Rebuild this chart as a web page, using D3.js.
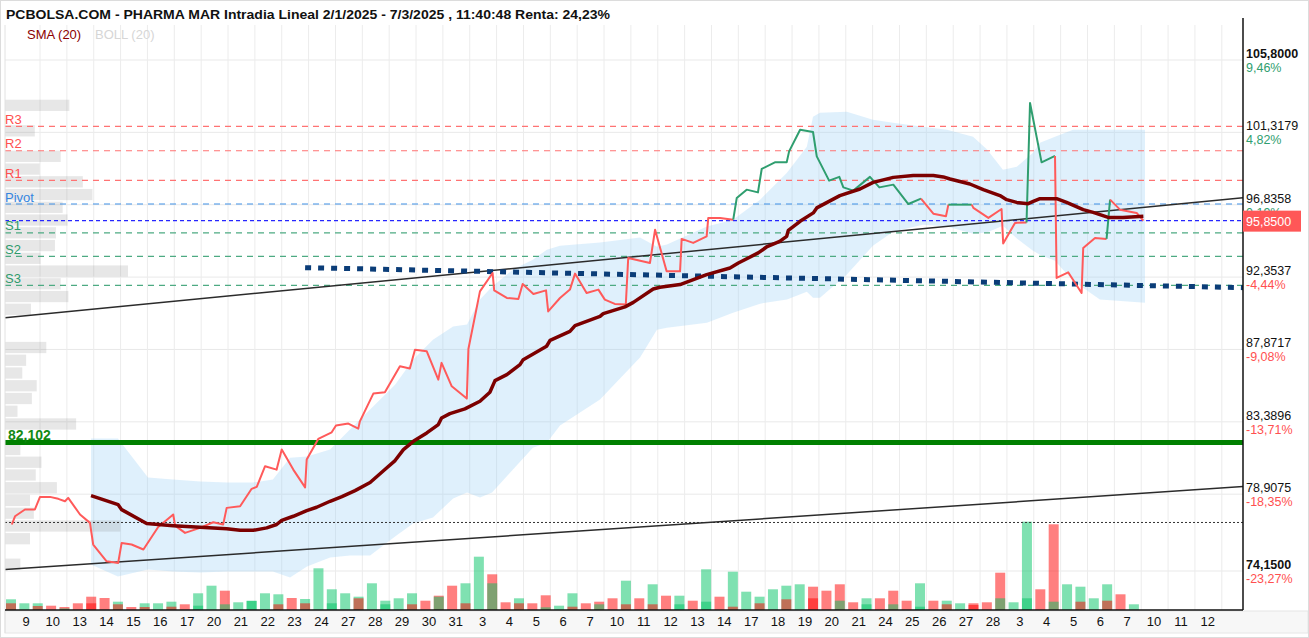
<!DOCTYPE html>
<html>
<head>
<meta charset="utf-8">
<script src="https://cdn.jsdelivr.net/npm/d3@7"></script>
<style>
body { margin: 0; background: #fff; }
svg { display: block; font-family: "Liberation Sans", Arial, sans-serif; }
</style>
</head>
<body>
<div id="chart"></div>
<script>
"use strict";

// ---- data ----
const dayLabels = ["9","10","13","14","15","16","17","20","21","22","23","24","27","28","29","30","31",
  "3","4","5","6","7","10","11","12","13","14","17","18","19","20","21","24","25","26","27","28",
  "3","4","5","6","7","10","11","12"];

const yTicks = [105.8, 101.3179, 96.8358, 92.3537, 87.8717, 83.3896, 78.9075, 74.15];
const yTickLabels = ["105,8000","101,3179","96,8358","92,3537","87,8717","83,3896","78,9075","74,1500"];
const yTickPct = ["9,46%","4,82%","0,19%","-4,44%","-9,08%","-13,71%","-18,35%","-23,27%"];

const pivotNames = ["R3","R2","R1","Pivot","S1","S2","S3"];
const pivotValues = [101.69, 100.18, 98.35, 96.88, 95.09, 93.64, 91.84];

const lastPrice = 95.85;
const startPrice = 77.155;
const supportLevel = 82.102;

// trend lines, [time, price] end points
const trendUpper = [[-0.76, 89.84], [45.33, 97.27]];
const trendLower = [[-0.76, 74.24], [45.33, 79.38]];
const navyTrend = [[10.41, 92.94], [45.33, 91.70]];

// intraday price (time in trading days from 9 Jan)
const priceT = [-0.51,-0.39,-0.02,0.35,0.54,0.91,1.22,1.47,1.59,2.03,
  2.40,2.52,3.02,3.45,3.58,3.95,4.39,4.94,5.50,5.57,
  5.94,6.50,6.99,7.36,7.49,7.99,8.42,8.61,8.92,9.35,
  9.54,9.97,10.41,10.47,10.90,11.40,11.56,12.02,12.39,12.45,
  12.95,13.38,13.94,14.31,14.50,14.94,15.37,15.49,15.87,16.43,
  16.49,16.92,17.39,17.45,17.92,18.35,18.51,18.91,19.38,19.46,
  19.90,20.27,20.46,20.89,21.33,21.57,21.94,22.35,22.44,23.25,
  23.44,23.87,24.37,24.43,24.86,25.36,25.42,25.86,26.35,26.48,
  26.85,27.27,27.41,27.90,28.34,28.43,28.84,29.32,29.46,29.92,
  30.30,30.45,30.82,31.44,31.79,32.31,32.87,33.34,33.80,34.27,
  34.36,35.23,35.29,35.85,36.34,36.40,36.84,37.27,37.40,37.83,
  38.33,38.39,38.82,39.32,39.38,39.82,40.25,40.38,40.75,41.37,
  41.62];
const priceV = [77.03,77.54,77.96,77.96,78.74,78.74,78.62,78.47,78.68,77.65,
  77.13,75.79,74.75,74.65,75.89,75.79,75.48,76.88,77.65,76.96,
  76.51,76.82,77.17,77.03,78.06,78.16,79.24,79.36,80.64,80.43,
  81.67,80.43,79.33,81.05,82.33,82.74,83.16,83.28,82.97,83.42,
  85.14,85.22,86.83,86.69,87.86,87.76,86.00,87.04,85.59,84.83,
  87.90,91.47,92.61,91.53,91.06,91.00,91.93,91.31,91.53,90.23,
  91.06,91.58,92.57,91.37,91.58,90.96,90.69,90.65,93.54,93.23,
  95.29,92.71,92.71,94.72,94.47,94.88,96.02,96.02,95.91,97.25,
  97.77,97.60,99.05,99.46,99.46,100.14,101.48,101.34,99.83,98.33,
  98.56,97.91,97.71,98.56,97.91,98.08,96.88,97.21,96.28,96.12,
  96.84,96.84,96.64,96.02,96.57,94.43,95.71,95.74,103.14,99.46,
  99.86,92.30,92.65,91.37,94.16,94.78,94.72,97.15,96.53,96.33,
  95.85];
// point index ranges where the line is drawn green
const upRuns = [[78, 97], [100, 101], [107, 110], [116, 117]];

// SMA (20)
const smaT = [2.44,3.45,3.58,4.51,5.50,6.50,7.49,7.99,8.48,8.98,
  9.35,9.54,9.97,10.47,10.84,11.34,11.78,12.27,12.83,13.38,
  13.76,14.07,14.44,14.94,15.37,15.49,15.80,16.36,16.92,17.29,
  17.48,17.92,18.41,18.53,19.40,19.53,20.27,20.46,21.39,21.51,
  22.32,22.63,23.37,23.62,24.37,25.36,26.23,26.54,27.28,27.59,
  28.08,28.34,28.40,28.84,29.33,29.46,30.32,31.07,31.56,32.31,
  33.05,33.80,34.17,34.42,35.16,35.66,36.28,36.53,36.90,37.33,
  37.52,37.77,38.39,38.76,39.38,39.75,40.31,40.86,41.62];
const smaV = [78.82,78.26,77.95,77.09,76.96,76.86,76.76,76.67,76.67,76.82,
  77.03,77.29,77.54,77.89,78.10,78.47,78.76,79.13,79.63,80.44,
  80.99,81.67,82.18,82.70,83.22,83.63,83.90,84.19,84.66,85.22,
  85.94,86.31,86.93,87.24,88.07,88.44,88.99,89.35,89.92,90.09,
  90.51,90.79,91.62,91.72,91.89,92.51,92.92,93.23,93.85,94.22,
  94.57,94.88,95.25,95.81,96.33,96.64,97.40,97.81,98.22,98.53,
  98.64,98.64,98.56,98.43,98.12,97.77,97.40,97.15,96.98,96.90,
  97.04,97.21,97.21,96.98,96.53,96.36,96.05,96.05,96.12];

// Bollinger (20)
const bandT = [2.44,3.44,4.56,5.49,6.50,7.50,8.47,9.21,9.85,10.48,
  11.34,12.08,12.83,13.76,14.43,15.17,15.92,16.44,16.92,17.37,
  18.15,18.89,19.41,19.90,21.39,22.88,23.51,23.88,25.37,26.34,
  27.35,28.35,29.09,29.32,29.58,30.58,31.55,32.30,33.41,34.31,
  35.28,35.80,36.39,36.91,37.51,37.77,38.33,39.00,40.00,41.68];
const bandUpper = [82.35,82.35,79.94,79.81,79.69,79.63,79.63,79.81,81.17,81.24,
  81.67,82.91,84.15,85.69,87.24,88.48,89.29,89.41,90.96,91.76,
  92.82,93.43,94.05,94.30,94.49,94.80,94.24,94.37,95.48,95.91,
  97.15,98.82,100.43,102.29,102.54,102.60,102.10,101.92,101.67,101.48,
  101.05,100.25,99.01,99.19,100.06,100.68,101.05,101.48,101.48,101.48];
const bandLower = [74.55,73.81,74.24,74.12,74.05,74.12,74.12,74.12,73.74,74.43,
  74.98,75.11,75.11,76.28,77.09,77.46,78.64,79.01,78.70,79.01,
  80.44,81.79,82.10,83.16,84.77,87.37,89.10,89.22,89.53,90.15,
  90.71,90.96,91.45,91.08,91.08,92.51,94.30,95.17,95.60,95.48,
  95.04,95.11,95.54,94.74,93.99,93.74,93.37,92.13,90.96,90.77];

// volume at price, bins from top (high) to bottom (low)
const profileHigh = 103.34, profileLow = 74.13;
const profileVol = [67,0,31,0,58,36,81,91,60,65,
  53,52,37,128,58,66,27,0,0,43,
  22,18,33,28,13,74,0,16,38,32,
  54,26,30,120,26,0,16];

// volume per half session: main bar and overlaid bar, G = up, R = down
const volA = [10.7,6.7,6.7,4.3,3,6.7,13.3,12,8.3,3,
  6.7,6.7,8.3,5.7,16.7,24.3,19.3,7.7,9.3,16.7,
  15.7,12,11,41.7,20.7,16.7,13.3,26.7,9.3,11.7,
  16.7,9.3,14.3,24.3,26.7,53.3,35.7,7.7,11.7,6.7,
  14.7,4.3,16.7,6.7,8.3,11.7,29.3,11.7,25.7,14.3,
  14.3,9.3,40.7,13.3,38.3,18.3,13.3,20.7,24.3,25.7,
  23.3,19.3,25.7,7.7,11.7,11.7,19.3,9.3,26.7,9.3,
  9.3,6.7,6.7,7.7,37.3,7.7,88.3,20.7,85.7,25.7,
  23.3,11.7,25.7,15.7,5.7];
const volAColor = "GGGRRRRRGRGGGRGGRGGGGRGGGGGGGGGRRRGGRRGRRGGRRRGRGRGRGRGGGGGGRRRRGRRRGRGGRRRGGRRGGGGRG";
const volB = [6.7,0,4,0,1.5,0,6.7,0,5.7,0,
  3,0,3.3,0,4.3,0,5.7,0,9,0,
  5.7,0,6.7,0,6.7,0,11.7,0,5.7,0,
  5.7,0,13.3,0,6.7,0,26.7,0,6.7,0,
  2.7,0,3.3,0,5.7,0,5.7,0,5.7,0,
  5.7,0,8.3,0,3.3,0,6.7,0,10.7,0,
  11.7,0,9.3,0,5.7,0,5.7,0,3.3,0,
  5.7,0,5,0,11.7,0,11.7,0,8.3,0,
  8.3,0,9.3,0,0];
const volBColor = "R-R-G-R-R-R-R-G-G-G-R-R-G-R-G-R-G-R-G-R-G-R-G-R-R-G-G-R-R-R-R-G-G-G-G-R-R-G-G-G-R-R--";

// ---- layout ----
const W = 1309, H = 638;
const plot = {left: 5, right: 1243, top: 25, bottom: 610};
const GREEN = "#2f9e6f", RED = "#ff5a5a";

const svg = d3.select("#chart").append("svg").attr("width", W).attr("height", H);

const x = d3.scaleLinear().domain([0, 44]).range([25.5, 1207.3]);
const y = d3.scaleLinear().domain([74.15, 105.8]).range([571, 60]);
const yVol = d3.scaleLinear().domain([0, 90]).range([plot.bottom, plot.bottom - 90]);
const wProf = d3.scaleLinear().domain([0, 128]).range([0, 123]);

svg.append("rect").attr("width", W).attr("height", H).attr("fill", "#fff");

svg.append("defs").append("clipPath").attr("id", "clip")
  .append("rect")
  .attr("x", plot.left).attr("y", plot.top)
  .attr("width", plot.right - plot.left).attr("height", plot.bottom - plot.top);

// x label band
svg.append("rect")
  .attr("x", plot.left).attr("y", plot.bottom + 1)
  .attr("width", W - plot.left - 1).attr("height", 22)
  .attr("fill", "#f7f7f7").attr("stroke", "#e6e6e6");

const g = svg.append("g").attr("clip-path", "url(#clip)");

// grid
g.append("g").selectAll("line")
  .data(yTicks)
  .join("line")
  .attr("x1", plot.left).attr("x2", plot.right)
  .attr("y1", d => y(d)).attr("y2", d => y(d))
  .attr("stroke", "#e9e9e9");
g.append("g").selectAll("line")
  .data(d3.range(0, 45))
  .join("line")
  .attr("x1", d => x(d + 0.54)).attr("x2", d => x(d + 0.54))
  .attr("y1", plot.top).attr("y2", plot.bottom)
  .attr("stroke", "#ececec");

// bollinger band
const band = bandT.map((t, i) => ({t: t, hi: bandUpper[i], lo: bandLower[i]}));
g.append("path")
  .datum(band)
  .attr("d", d3.area().x(d => x(d.t)).y0(d => y(d.lo)).y1(d => y(d.hi)))
  .attr("fill", "rgba(150,205,245,0.3)");

// volume at price
const profStep = (profileHigh - profileLow) / profileVol.length;
g.append("g").selectAll("rect")
  .data(profileVol)
  .join("rect")
  .attr("x", plot.left)
  .attr("y", (d, i) => y(profileHigh - i * profStep))
  .attr("height", (d, i) => y(profileHigh - (i + 1) * profStep) - y(profileHigh - i * profStep) - 1.5)
  .attr("width", d => wProf(d))
  .attr("fill", "rgba(120,120,120,0.18)");

// volume bars
const volStart = -0.54, volStep = 0.4977;
const barFill = c => c === "G" ? "rgba(0,195,100,0.5)" : "rgba(255,0,0,0.5)";
const vg = g.append("g");
vg.selectAll("rect.a")
  .data(volA)
  .join("rect")
  .attr("class", "a")
  .attr("x", (d, i) => x(volStart + i * volStep) - 5)
  .attr("width", 10)
  .attr("y", d => yVol(d))
  .attr("height", d => plot.bottom - yVol(d))
  .attr("fill", (d, i) => barFill(volAColor[i]));
vg.selectAll("rect.b")
  .data(volB.map((v, i) => ({v: v, i: i})).filter(d => d.v > 0))
  .join("rect")
  .attr("class", "b")
  .attr("x", d => x(volStart + d.i * volStep) - 5)
  .attr("width", 10)
  .attr("y", d => yVol(d.v))
  .attr("height", d => plot.bottom - yVol(d.v))
  .attr("fill", d => barFill(volBColor[d.i]));

// horizontal levels
const pivotColor = n => n[0] === "R" ? "#ff7373" : (n === "Pivot" ? "#3f8fe6" : "#4daa82");
pivotValues.forEach((v, i) => {
  g.append("line")
    .attr("x1", plot.left).attr("x2", plot.right)
    .attr("y1", y(v)).attr("y2", y(v))
    .attr("stroke", pivotColor(pivotNames[i]))
    .attr("stroke-width", 1.2)
    .attr("stroke-dasharray", "6,5");
});
g.append("line")
  .attr("x1", plot.left).attr("x2", plot.right)
  .attr("y1", y(lastPrice)).attr("y2", y(lastPrice))
  .attr("stroke", "#2626ff").attr("stroke-width", 1.4)
  .attr("stroke-dasharray", "4,3");
g.append("line")
  .attr("x1", plot.left).attr("x2", plot.right)
  .attr("y1", y(startPrice)).attr("y2", y(startPrice))
  .attr("stroke", "#333").attr("stroke-width", 1)
  .attr("stroke-dasharray", "2,2");
g.append("line")
  .attr("x1", plot.left).attr("x2", plot.right)
  .attr("y1", y(supportLevel)).attr("y2", y(supportLevel))
  .attr("stroke", "#008000").attr("stroke-width", 5);

const seg = d3.line().x(d => x(d[0])).y(d => y(d[1]));
[trendUpper, trendLower].forEach(tl => {
  g.append("path").datum(tl).attr("d", seg)
    .attr("fill", "none").attr("stroke", "#2b2b2b").attr("stroke-width", 1.5);
});
g.append("path").datum(navyTrend).attr("d", seg)
  .attr("fill", "none").attr("stroke", "#0b3d78").attr("stroke-width", 5)
  .attr("stroke-dasharray", "6,7");

// price line split in up / down runs
const isUp = i => upRuns.some(r => i >= r[0] && i < r[1]);
const runs = [];
let cur = null;
for (let i = 0; i < priceT.length - 1; i++) {
  const up = isUp(i);
  if (!cur || cur.up !== up) {
    cur = {up: up, pts: [[priceT[i], priceV[i]]]};
    runs.push(cur);
  }
  cur.pts.push([priceT[i + 1], priceV[i + 1]]);
}
g.append("g").selectAll("path")
  .data(runs)
  .join("path")
  .attr("d", d => seg(d.pts))
  .attr("fill", "none")
  .attr("stroke", d => d.up ? GREEN : RED)
  .attr("stroke-width", 2)
  .attr("stroke-linejoin", "round");

// SMA
g.append("path")
  .datum(smaT.map((t, i) => [t, smaV[i]]))
  .attr("d", seg)
  .attr("fill", "none")
  .attr("stroke", "#7c0000")
  .attr("stroke-width", 3.5)
  .attr("stroke-linejoin", "round");

// frame
svg.append("line").attr("x1", plot.left).attr("x2", plot.left)
  .attr("y1", plot.top).attr("y2", plot.bottom + 23).attr("stroke", "#e2e2e2");
svg.append("line").attr("x1", plot.left).attr("x2", plot.right)
  .attr("y1", plot.bottom).attr("y2", plot.bottom).attr("stroke", "#111").attr("stroke-width", 1.5);
svg.append("line").attr("x1", plot.right).attr("x2", plot.right)
  .attr("y1", 18).attr("y2", plot.bottom).attr("stroke", "#111").attr("stroke-width", 1.5);

// x axis labels
const xAxis = svg.append("g")
  .attr("transform", `translate(0, ${plot.bottom + 3.5})`)
  .call(d3.axisBottom(x).tickValues(d3.range(dayLabels.length)).tickFormat(i => dayLabels[i]).tickSize(0));
xAxis.select(".domain").remove();
xAxis.selectAll("text")
  .attr("fill", "#111")
  .style("font-size", "13px")
  .style("font-family", "Liberation Sans, Arial, sans-serif");

// right axis labels
const ra = svg.append("g");
yTicks.forEach((v, i) => {
  const bold = i === 0 || i === yTicks.length - 1;
  ra.append("text")
    .attr("x", plot.right + 3).attr("y", y(v) - 2)
    .attr("font-size", 12.5)
    .attr("font-weight", bold ? "bold" : "normal")
    .attr("fill", "#111")
    .text(yTickLabels[i]);
  ra.append("text")
    .attr("x", plot.right + 3).attr("y", y(v) + 12)
    .attr("font-size", 12.5)
    .attr("fill", yTickPct[i][0] === "-" ? "#ff5050" : GREEN)
    .text(yTickPct[i]);
});
ra.append("rect")
  .attr("x", plot.right).attr("y", y(lastPrice) - 10)
  .attr("width", 58).attr("height", 21)
  .attr("fill", "#ff5757");
ra.append("text")
  .attr("x", plot.right + 3).attr("y", y(lastPrice) + 5)
  .attr("font-size", 12.5).attr("fill", "#fff")
  .text("95,8500");

// pivot labels
pivotValues.forEach((v, i) => {
  svg.append("text")
    .attr("x", plot.left).attr("y", y(v) - 2.5)
    .attr("font-size", 13)
    .attr("fill", pivotNames[i][0] === "R" ? "#ff4f4f" : (pivotNames[i] === "Pivot" ? "#3585e0" : "#2e9a6c"))
    .text(pivotNames[i]);
});
svg.append("text")
  .attr("x", 8).attr("y", y(supportLevel) - 2.5)
  .attr("font-size", 14).attr("font-weight", "bold")
  .attr("fill", "#138a13")
  .text("82,102");

// title and legend
svg.append("text")
  .attr("x", 6).attr("y", 19)
  .attr("font-size", 13).attr("font-weight", "bold")
  .attr("fill", "#111")
  .attr("textLength", 604).attr("lengthAdjust", "spacingAndGlyphs")
  .text("PCBOLSA.COM - PHARMA MAR Intradia Lineal 2/1/2025 - 7/3/2025 , 11:40:48 Renta: 24,23%");
svg.append("text")
  .attr("x", 27).attr("y", 39)
  .attr("font-size", 13).attr("fill", "#8b0000")
  .text("SMA (20)");
svg.append("text")
  .attr("x", 95).attr("y", 39)
  .attr("font-size", 13).attr("fill", "#d6d6d6")
  .text("BOLL (20)");

svg.append("rect")
  .attr("x", 0.5).attr("y", 0.5).attr("width", W - 1).attr("height", H - 1)
  .attr("fill", "none").attr("stroke", "#dcdcdc");
</script>
</body>
</html>
